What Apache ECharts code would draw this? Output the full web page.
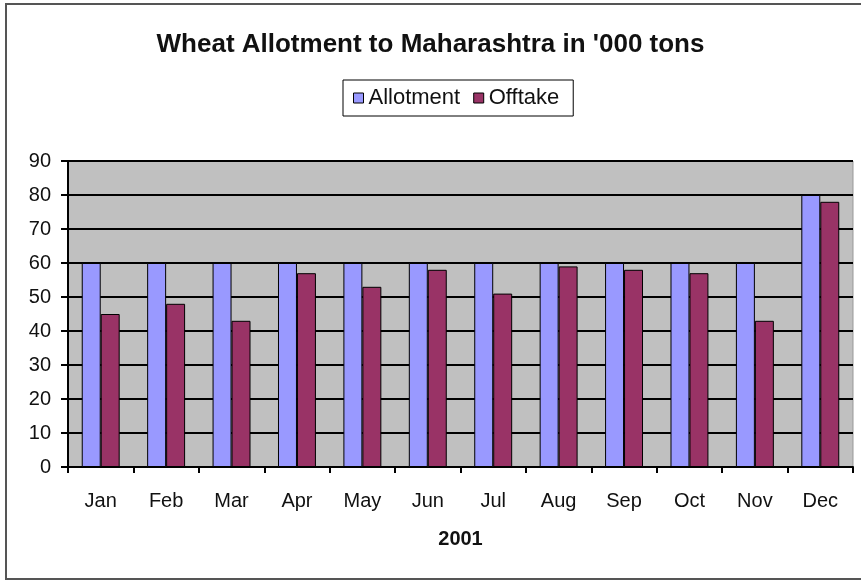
<!DOCTYPE html>
<html><head><meta charset="utf-8">
<script src="https://cdn.jsdelivr.net/npm/echarts@6/dist/echarts.min.js"></script>
<style>html,body{margin:0;padding:0;background:#fff;overflow:hidden}#c{width:861px;height:580px}
#frame{position:absolute;left:5px;top:3px;width:870px;height:573px;border:2px solid #555;pointer-events:none}</style>
</head><body><div id="c"></div><div id="frame"></div>
<script>
const categories = ['Jan','Feb','Mar','Apr','May','Jun','Jul','Aug','Sep','Oct','Nov','Dec'];
const allotment = [60,60,60,60,60,60,60,60,60,60,60,80];
const offtake = [45,48,43,57,53,58,51,59,58,57,43,78];
const yTicks = {min:0, max:90, interval:10};
const chart = echarts.init(document.getElementById('c'), null, {renderer:'canvas'});
const font = 'Arial, "Liberation Sans", sans-serif';
chart.setOption({
  animation:false,
  backgroundColor:'#fff',
  title:{text:"Wheat Allotment to Maharashtra in '000 tons", left:'center', top:27,
    textStyle:{fontFamily:font, fontSize:26, fontWeight:'bold', color:'#111'}},
  legend:{top:80, left:343, borderColor:'#000', borderWidth:1, padding:[7,14,7,10],
    itemWidth:10, itemHeight:10, itemGap:13, icon:'rect',
    textStyle:{fontFamily:font, fontSize:22, color:'#111'},
    data:[{name:'Allotment', itemStyle:{borderColor:'#000',borderWidth:1}},{name:'Offtake', itemStyle:{borderColor:'#000',borderWidth:1}}]},
  grid:{left:68, right:8, top:161, bottom:113, show:true, backgroundColor:'#C0C0C0', borderColor:'#999', borderWidth:1},
  xAxis:{type:'category', data:categories, name:'2001', nameLocation:'middle', nameGap:62,
    nameTextStyle:{fontFamily:font, fontSize:20, fontWeight:'bold', color:'#111'},
    axisLine:{lineStyle:{color:'#000', width:2}},
    axisTick:{show:true, length:6, lineStyle:{color:'#000', width:2}},
    axisLabel:{fontFamily:font, fontSize:20, color:'#111', margin:24}},
  yAxis:{type:'value', min:yTicks.min, max:yTicks.max, interval:yTicks.interval,
    axisLine:{show:true, lineStyle:{color:'#000', width:2}},
    axisTick:{show:true, length:7, lineStyle:{color:'#000', width:2}},
    splitLine:{show:true, lineStyle:{color:'#000', width:2}},
    axisLabel:{fontFamily:font, fontSize:20, color:'#111', margin:17}},
  series:[
    {name:'Allotment', type:'bar', data:allotment, barGap:'0%', barCategoryGap:'42%',
     itemStyle:{color:'#9999FF', borderColor:'#000', borderWidth:1}},
    {name:'Offtake', type:'bar', data:offtake, barGap:'0%', barCategoryGap:'42%',
     itemStyle:{color:'#993366', borderColor:'#000', borderWidth:1}}
  ]
});
</script></body></html>
